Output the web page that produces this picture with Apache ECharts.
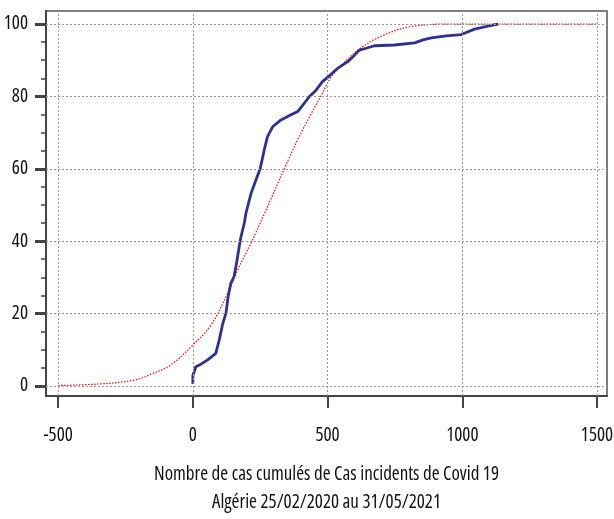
<!DOCTYPE html>
<html>
<head>
<meta charset="utf-8">
<script src="https://cdn.jsdelivr.net/npm/echarts@6/dist/echarts.min.js"></script>
<style>
  html, body { margin: 0; padding: 0; background: #fff; }
  #main { width: 614px; height: 519px; }
</style>
</head>
<body>
<div id="main"></div>
<script>
// cumulative cases (%) vs days - observed
var obsX = [0, 0, 11, 30, 55, 85, 98, 110, 123, 131, 141, 153, 163, 172, 178, 191, 197, 216, 234, 250, 265, 277, 296, 327, 364, 389, 408, 432, 458, 480, 513, 538, 575, 600, 618, 643, 674, 748, 823, 854, 885, 940, 996, 1046, 1095, 1133];
var obsY = [0.5, 2.8, 5.3, 6, 7.2, 9, 12.7, 16.9, 20.1, 24.7, 28.4, 30.2, 34.3, 38.5, 41, 45, 47.7, 53.2, 56.9, 60.1, 65.2, 68.9, 71.6, 73.5, 74.9, 75.8, 77.6, 79.9, 81.8, 84, 86.1, 87.8, 89.6, 91.4, 92.8, 93.3, 94, 94.2, 94.8, 95.6, 96.2, 96.7, 97.1, 98.6, 99.4, 100];

// fitted curve
var fitX = [-500, -342, -218, -156, -82, 0, 67, 129, 166, 216, 265, 340, 389, 439, 476, 513, 562, 624, 699, 810, 970, 1200, 1500];
var fitY = [0.1, 0.55, 1.6, 3.2, 5.8, 11.3, 16.8, 25.6, 32, 39.5, 47.5, 60.1, 68, 75.2, 80.2, 85.3, 89.4, 93.4, 96.6, 99.3, 100, 100, 100];

var xTicks = [-500, 0, 500, 1000, 1500];
var yTicks = [0, 20, 40, 60, 80, 100];
var yMinor = [0, 5, 10, 15, 20, 25, 30, 35, 40, 45, 50, 55, 60, 65, 70, 75, 80, 85, 90, 95, 100];

var titleLines = ['Nombre de cas cumulés de Cas incidents de Covid 19', 'Algérie 25/02/2020 au 31/05/2021'];

var FONT = '"Open Sans", Roboto, sans-serif';

function zip(xs, ys) {
  return xs.map(function (x, i) { return [x, ys[i]]; });
}

var chart = echarts.init(document.getElementById('main'), null, { renderer: 'canvas' });

var option = {
  animation: false,
  grid: {
    left: 46, top: 11, right: 7, bottom: 123,
    outerBoundsMode: 'none',
    containLabel: false,
    show: true, borderColor: '#555', borderWidth: 1.5
  },
  xAxis: {
    type: 'value',
    min: -545, max: 1537,
    axisLine: { onZero: false, lineStyle: { color: '#444', width: 2 } },
    axisTick: { show: true, length: 12, lineStyle: { color: '#444', width: 2 }, customValues: xTicks },
    axisLabel: {
      customValues: xTicks, color: '#111', fontFamily: FONT, fontWeight: 'condensed', fontSize: 19, margin: 30,
      formatter: function (v) { return String(v); }
    },
    splitLine: { show: false },
    name: titleLines.join('\n'),
    nameLocation: 'middle',
    nameGap: 65,
    nameTextStyle: { color: '#111', fontFamily: FONT, fontWeight: 'condensed', fontSize: 19, lineHeight: 28 }
  },
  yAxis: [{
    type: 'value',
    min: -2.8, max: 103.6,
    axisLine: { show: true, onZero: false, lineStyle: { color: '#444', width: 2 } },
    axisTick: { show: true, length: 11, lineStyle: { color: '#444', width: 3 }, customValues: yTicks },
    axisLabel: {
      customValues: yTicks, color: '#111', fontFamily: FONT, fontWeight: 'condensed', fontSize: 19, margin: 18,
      formatter: function (v) { return String(v); }
    },
    splitLine: { show: false }
  }, {
    type: 'value',
    position: 'left',
    min: -2.8, max: 103.6,
    axisLine: { show: false, onZero: false },
    axisTick: { show: true, length: 5, lineStyle: { color: '#444', width: 1.5 }, customValues: yMinor },
    axisLabel: { show: false },
    splitLine: { show: false }
  }],
  series: [{
    type: 'line',
    name: 'grid',
    data: [],
    silent: true,
    markLine: {
      symbol: 'none',
      silent: true,
      label: { show: false },
      lineStyle: { color: '#999', type: [2, 2], width: 1 },
      data: xTicks.map(function (v) { return { xAxis: v }; })
        .concat(yTicks.map(function (v) { return { yAxis: v }; }))
    }
  }, {
    type: 'line',
    name: 'fit',
    data: zip(fitX, fitY),
    smooth: 0.4,
    symbol: 'none',
    lineStyle: { color: '#ff0000', width: 1.2, type: [1.5, 1.5] },
    z: 3
  }, {
    type: 'line',
    name: 'observed',
    data: zip(obsX, obsY),
    symbol: 'none',
    lineStyle: { color: '#2e3192', width: 2.8 },
    z: 4
  }]
};

chart.setOption(option);
</script>
</body>
</html>
